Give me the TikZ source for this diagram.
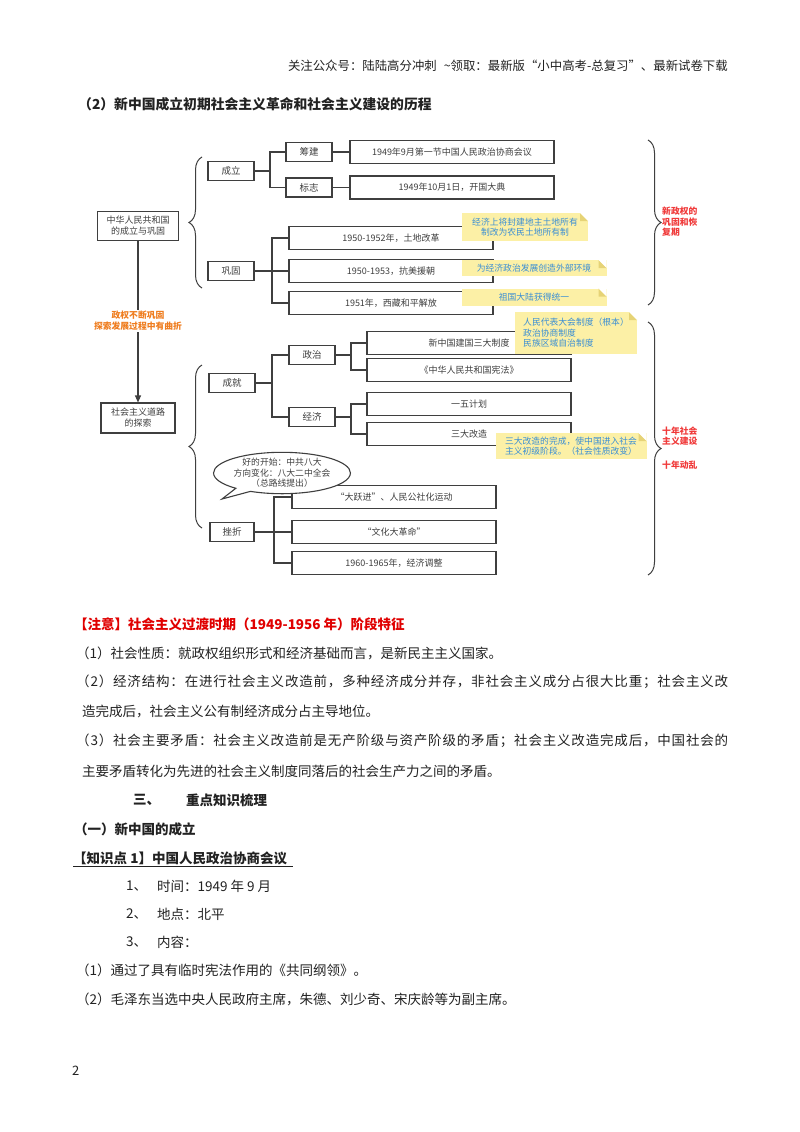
\documentclass[tikz,border=0pt]{standalone}
\usepackage{fontspec}
\setmainfont{Noto Sans CJK SC}
\usetikzlibrary{arrows.meta, positioning}
\usetikzlibrary{decorations.pathreplacing}
\usetikzlibrary{shapes.callouts, shadows}

\definecolor{boxline}{HTML}{3F3F3F}
\definecolor{noteyel}{HTML}{FCF0A6}
\definecolor{notefold}{HTML}{E6D376}
\definecolor{noteblue}{HTML}{3A8ED4}
\definecolor{stagered}{HTML}{F03A3A}
\definecolor{warnorange}{HTML}{EF7D1F}
\definecolor{bodytext}{HTML}{222222}
\definecolor{alertred}{HTML}{E00000}

% spread a line of characters over a given width
\def\spreadchars#1{#1\spreadnext}
\def\spreadnext#1{\ifx\relax#1\else\hskip0pt plus 1pt#1\expandafter\spreadnext\fi}
\newcommand\spreadline[2]{\makebox[#1][s]{\spreadchars#2\relax}}

\tikzset{
  box/.style={draw=boxline, line width=1.1pt, fill=white, inner sep=1pt,
    font=\fontsize{9}{11}\selectfont, text=boxline,
    drop shadow={shadow xshift=0.7pt, shadow yshift=-0.7pt, opacity=0.35}},
  smallbox/.style={box, minimum width=46pt, minimum height=19pt, font=\fontsize{9.5}{11}\selectfont},
  longbox/.style={box, minimum width=204pt, minimum height=23pt},
  link/.style={draw=boxline, line width=1.1pt},
  note/.style={fill=noteyel, text=noteblue, inner sep=2pt,
    font=\fontsize{8.8}{10.5}\selectfont,
    path picture={
      \fill[notefold] ([xshift=-8pt]path picture bounding box.north east)
        -- ([yshift=-8pt]path picture bounding box.north east)
        -- ([xshift=-8pt,yshift=-8pt]path picture bounding box.north east) -- cycle;
      \fill[white] ([xshift=-8pt]path picture bounding box.north east)
        -- (path picture bounding box.north east)
        -- ([yshift=-8pt]path picture bounding box.north east) -- cycle;}},
  curly/.style={decorate, decoration={brace, amplitude=13pt}, draw=boxline, line width=1pt},
  stage/.style={anchor=west, inner sep=0, align=left, text=stagered,
    font=\bfseries\fontsize{8.8}{10.5}\selectfont},
  bubble/.style={ellipse callout, draw=boxline, line width=1.1pt, fill=white,
    minimum width=121pt, minimum height=40pt, inner sep=0, align=center,
    font=\fontsize{8.8}{10.5}\selectfont, text=boxline},
  body/.style={anchor=west, inner sep=0, text=bodytext, font=\fontsize{13.5}{16}\selectfont},
  heading/.style={body, font=\bfseries\fontsize{13.5}{16}\selectfont}
}

\begin{document}
\begin{tikzpicture}[x=1pt, y=-1pt]
\useasboundingbox[fill=white] (0,0) rectangle (800,1132);

% page head
\node[body, anchor=east, font=\fontsize{12.4}{14}\selectfont] (hdr) at (728,66)
  {关注公众号：陆陆高分冲刺\hspace{7pt}\textasciitilde 领取：最新版“小中高考-总复习”、最新试卷下载};
\node[heading, font=\bfseries\fontsize{13.8}{16}\selectfont] (ttl) at (78,104) {（2）新中国成立初期社会主义革命和社会主义建设的历程};

% left column
\node[box, minimum width=81pt, minimum height=29pt, align=center] (guo) at (138,226) {中华人民共和国\\的成立与巩固};
\node[box, minimum width=74pt, minimum height=30pt, align=center] (tansuo) at (138,418) {社会主义道路\\的探索};
\draw[link, -{Triangle[length=7pt, width=6pt]}] (guo) -- (tansuo);
\node[fill=white, inner sep=1pt, align=center, text=warnorange,
  font=\bfseries\fontsize{8.8}{11}\selectfont] (qugu) at (138,321) {政权不断巩固\\探索发展过程中有曲折};

% founding and consolidation
\node[smallbox] (chengli) at (231,171) {成立};
\node[smallbox] (gonggu) at (231,271) {巩固};
\node[smallbox] (choujian) at (309,152) {筹建};
\node[smallbox] (biaozhi) at (309,187.5) {标志};
\node[longbox] (zhengxie) at (452,152) {1949年9月第一节中国人民政治协商会议};
\node[longbox] (kaiguo) at (452,187.5) {1949年10月1日，开国大典};
\node[longbox] (tugai) at (391,238) {1950-1952年，土地改革};
\node[longbox] (kangmei) at (391,271) {1950-1953，抗美援朝};
\node[longbox] (xizang) at (391,303) {1951年，西藏和平解放};

\coordinate (jc) at (270,171);
\coordinate (jg) at (272,271);
\draw[link] (chengli.east) -- (jc) |- (choujian.west);
\draw[link] (jc) |- (biaozhi.west);
\draw[link] (choujian) -- (zhengxie);
\draw[link] (biaozhi) -- (kaiguo);
\draw[link] (gonggu.east) -- (jg) |- (tugai.west);
\draw[link] (jg) -- (kangmei.west);
\draw[link] (jg) |- (xizang.west);

\node[note, minimum width=126pt, minimum height=28pt, align=center] (n1) at (525,227) {经济上将封建地主土地所有\\制改为农民土地所有制};
\node[note, minimum width=145pt, minimum height=16pt] (n2) at (534,268) {为经济政治发展创造外部环境};
\node[note, minimum width=145pt, minimum height=17pt] (n3) at (534,297) {祖国大陆获得统一};

\draw[curly] (202,288) -- (202,157);
\draw[curly] (648,140) -- (648,305);
\node[stage] (s1) at (662,222) {新政权的\\巩固和恢\\复期};

% exploring the road
\node[smallbox] (chengjiu) at (232,383) {成就};
\node[smallbox] (zhengzhi) at (312,355) {政治};
\node[smallbox] (jingji) at (312,417) {经济};
\node[longbox] (zhidu) at (469,343) {新中国建国三大制度};
\node[longbox] (xianfa) at (469,370) {《中华人民共和国宪法》};
\node[longbox] (yiwu) at (469,404) {一五计划};
\node[longbox] (gaizao) at (469,434) {三大改造};

\coordinate (jcj) at (272,383);
\coordinate (jzz) at (351,355);
\coordinate (jjj) at (351,417);
\draw[link] (chengjiu.east) -- (jcj) |- (zhengzhi.west);
\draw[link] (jcj) |- (jingji.west);
\draw[link] (zhengzhi.east) -- (jzz) |- (zhidu.west);
\draw[link] (jzz) |- (xianfa.west);
\draw[link] (jingji.east) -- (jjj) |- (yiwu.west);
\draw[link] (jjj) |- (gaizao.west);

\node[note, minimum width=122pt, minimum height=42pt, align=left] (n4) at (576,333) {人民代表大会制度（根本）\\政治协商制度\\民族区域自治制度};
\node[note, minimum width=151pt, minimum height=26pt, align=left] (n5) at (571,446) {三大改造的完成，使中国进入社会\\主义初级阶段。（社会性质改变）};

\node[smallbox, minimum width=44pt] (cuozhe) at (232,532) {挫折};
\node[longbox] (dayuejin) at (394,497) {“大跃进”、人民公社化运动};
\node[longbox] (wenge) at (394,532) {“文化大革命”};
\node[longbox] (tiaozheng) at (394,563) {1960-1965年，经济调整};

\coordinate (jcz) at (274,532);
\draw[link] (cuozhe.east) -- (jcz) |- (dayuejin.west);
\draw[link] (jcz) -- (wenge.west);
\draw[link] (jcz) |- (tiaozheng.west);

\coordinate (tail) at (222,499);
\node[bubble, callout absolute pointer={(tail)}] (bayi) at (282,473) {好的开始：中共八大\\方向变化：八大二中全会\\（总路线提出）};

\draw[curly] (202,528) -- (202,365);
\draw[curly] (648,322) -- (648,575);
\node[stage] (s2) at (662,436) {十年社会\\主义建设};
\node[stage] (s3) at (662,465) {十年动乱};

% notes below the chart
\node[body, text=alertred, font=\bfseries\fontsize{13.5}{16}\selectfont] (zy) at (74,624) {【注意】社会主义过渡时期（1949-1956 年）阶段特征};
\node[body] (p1) at (76,653) {（1）社会性质：就政权组织形式和经济基础而言，是新民主主义国家。};
\node[body] (p2) at (76,682) {\spreadline{652pt}{（2）经济结构：在进行社会主义改造前，多种经济成分并存，非社会主义成分占很大比重；社会主义改}};
\node[body] (p2b) at (82,711) {造完成后，社会主义公有制经济成分占主导地位。};
\node[body] (p3) at (76,741) {\spreadline{652pt}{（3）社会主要矛盾：社会主义改造前是无产阶级与资产阶级的矛盾；社会主义改造完成后，中国社会的}};
\node[body] (p3b) at (82,771) {主要矛盾转化为先进的社会主义制度同落后的社会生产力之间的矛盾。};

\node[heading] (sec) at (133,800) {三、};
\node[heading] (sect) at (186,800) {重点知识梳理};
\node[heading] (sub) at (74,829) {（一）新中国的成立};
\node[heading] (kp) at (73,858) {【知识点 1】中国人民政治协商会议};
\draw[line width=0.8pt, bodytext] ([yshift=-2pt]kp.south west) -- ([yshift=-2pt,xshift=6pt]kp.south east);
\node[body] (i1) at (126,886) {1、};
\node[body] (t1) at (157,886) {时间：1949 年 9 月};
\node[body] (i2) at (126,914) {2、};
\node[body] (t2) at (157,914) {地点：北平};
\node[body] (i3) at (126,942) {3、};
\node[body] (t3) at (157,942) {内容：};
\node[body] (q1) at (76,970) {（1）通过了具有临时宪法作用的《共同纲领》。};
\node[body] (q2) at (76,999) {（2）毛泽东当选中央人民政府主席，朱德、刘少奇、宋庆龄等为副主席。};

\node[body, font=\fontsize{13}{15}\selectfont] (pg) at (72,1071) {2};
\end{tikzpicture}
\end{document}
